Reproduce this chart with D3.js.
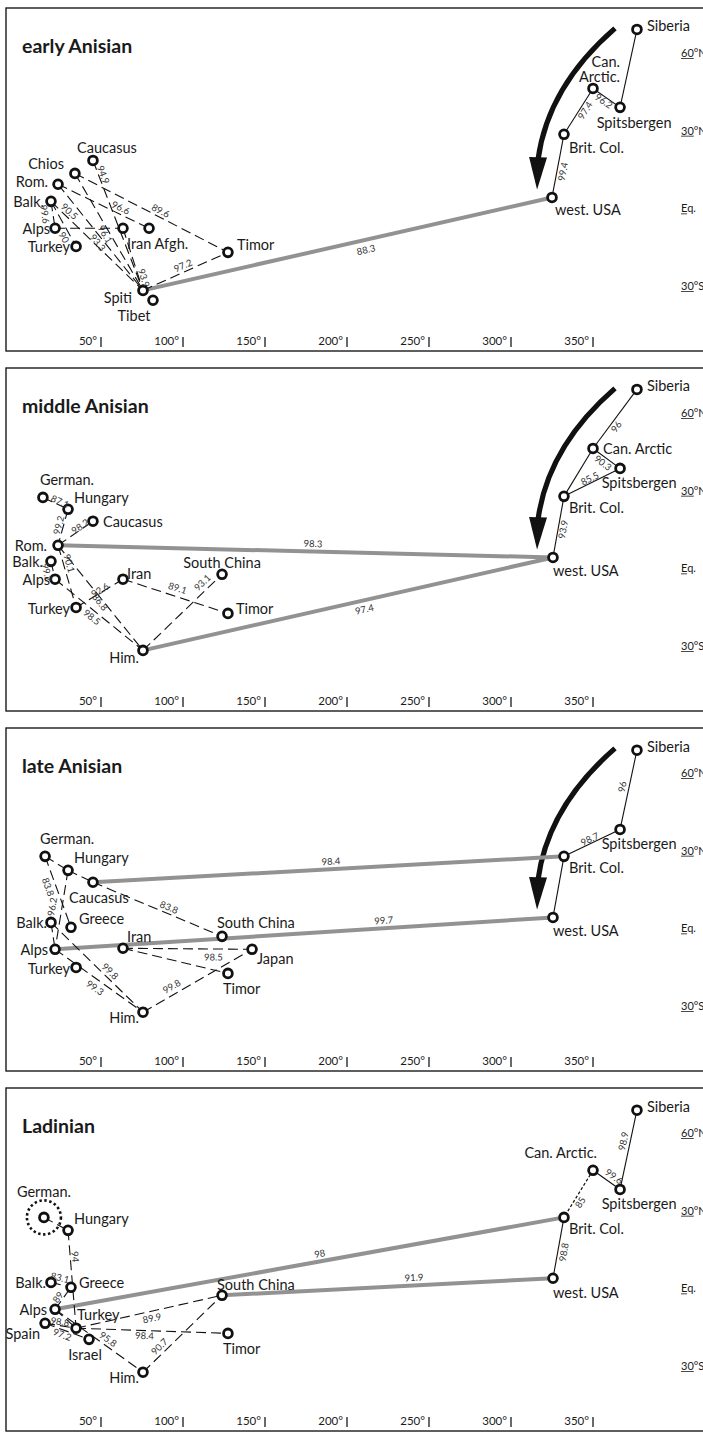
<!DOCTYPE html>
<html>
<head>
<meta charset="utf-8">
<script src="https://cdn.jsdelivr.net/npm/d3@7"></script>
<style>
  body { margin: 0; background: #fff; }
  svg { display: block; }
  text { font-family: Lato, "Noto Sans", "DejaVu Sans", sans-serif; fill: #1a1a1a; }
</style>
</head>
<body>
<svg id="chart" width="703" height="1433"></svg>
<script>
// ---------------- data ----------------
const panelTitles = ["early Anisian", "middle Anisian", "late Anisian", "Ladinian"];
const lonTicks = [50, 100, 150, 200, 250, 300, 350];
const latTicks = [60, 30, 0, -30];
const latTickLabels = [["60", "°N"], ["30", "°N"], ["E", "q."], ["30", "°S"]];

// sites: [id, label, palaeolongitude, palaeolatitude]
const earlyAnisianSites = [
  ["Caucasus", "Caucasus", 45.1, 18.5],
  ["Chios", "Chios", 34.1, 13.5],
  ["Rom", "Rom.", 23.8, 9.3],
  ["Balk", "Balk.", 19.5, 2.7],
  ["Alps", "Alps", 22.0, -7.7],
  ["Turkey", "Turkey", 34.8, -14.7],
  ["Iran", "Iran Afgh.", 63.4, -7.7],
  ["Afgh", "", 79.3, -7.7],
  ["Timor", "Timor", 127.4, -17.0],
  ["Spiti", "Spiti", 75.6, -31.7],
  ["Tibet", "Tibet", 81.7, -35.5],
  ["USA", "west. USA", 325.0, 4.2],
  ["BritCol", "Brit. Col.", 332.3, 28.6],
  ["CanArc", "Can.\nArctic.", 350.0, 46.3],
  ["Spitz", "Spitsbergen", 366.5, 39.0],
  ["Siberia", "Siberia", 376.8, 69.1]
];
// links: [from, to, similarity, kind]
const earlyAnisianLinks = [
  ["Siberia", "Spitz", null, "solid"],
  ["CanArc", "Spitz", "96.2", "solid"],
  ["CanArc", "BritCol", "97.4", "solid"],
  ["BritCol", "USA", "99.4", "solid"],
  ["Spiti", "USA", "88.3", "gray"],
  ["Spiti", "Timor", "97.2", "dashed"],
  ["Chios", "Timor", "89.6", "dashed"],
  ["Caucasus", "Spiti", "94.9", "dashed"],
  ["Rom", "Afgh", "96.6", "dashed"],
  ["Balk", "Spiti", "90.5", "dashed"],
  ["Balk", "Alps", "99.6", "dashed"],
  ["Balk", "Turkey", "90", "dashed"],
  ["Alps", "Iran", null, "dashed"],
  ["Rom", "Spiti", "93.3", "dashed"],
  ["Chios", "Spiti", "96.1", "dashed"],
  ["Iran", "Spiti", "93.9", "dashed"]
];

const middleAnisianSites = [
  ["German", "German.", 14.6, 27.4],
  ["Hungary", "Hungary", 29.9, 22.8],
  ["Caucasus", "Caucasus", 45.1, 18.2],
  ["Rom", "Rom.", 23.8, 8.9],
  ["Balk", "Balk.", 19.5, 2.7],
  ["Alps", "Alps", 22.0, -4.2],
  ["Turkey", "Turkey", 34.8, -15.1],
  ["Iran", "Iran", 63.4, -4.2],
  ["SChina", "South China", 123.8, -2.3],
  ["Timor", "Timor", 127.4, -17.4],
  ["Him", "Him.", 75.6, -31.7],
  ["Siberia", "Siberia", 376.8, 69.1],
  ["CanArc", "Can. Arctic", 350.0, 46.3],
  ["Spitz", "Spitsbergen", 366.5, 38.6],
  ["BritCol", "Brit. Col.", 332.3, 27.8],
  ["USA", "west. USA", 325.6, 4.2]
];
const middleAnisianLinks = [
  ["Siberia", "CanArc", "96", "solid"],
  ["CanArc", "Spitz", "90.3", "solid"],
  ["BritCol", "Spitz", "85.5", "solid"],
  ["CanArc", "BritCol", null, "solid"],
  ["BritCol", "USA", "93.9", "solid"],
  ["Rom", "USA", "98.3", "gray"],
  ["Him", "USA", "97.4", "gray"],
  ["German", "Hungary", "87.1", "dashed"],
  ["Hungary", "Rom", "99.2", "dashed"],
  ["Rom", "Caucasus", "98.2", "dashed"],
  ["Balk", "Alps", "99.2", "dashed"],
  ["Rom", "Turkey", "90.1", "dashed"],
  ["Rom", "Him", "86.8", "dashed"],
  ["Alps", "Him", "98.5", "dashed"],
  ["Turkey", "Iran", "92.6", "dashed"],
  ["Iran", "Timor", "89.1", "dashed"],
  ["Him", "SChina", "93.1", "dashed"]
];

const lateAnisianSites = [
  ["German", "German.", 15.9, 27.8],
  ["Hungary", "Hungary", 29.9, 22.4],
  ["Caucasus", "Caucasus", 45.1, 17.8],
  ["Balk", "Balk.", 19.5, 2.3],
  ["Greece", "Greece", 31.7, 0.4],
  ["Alps", "Alps", 22.0, -8.1],
  ["Turkey", "Turkey", 34.8, -15.1],
  ["Iran", "Iran", 63.4, -7.7],
  ["SChina", "South China", 123.8, -3.1],
  ["Japan", "Japan", 142.1, -8.1],
  ["Timor", "Timor", 127.4, -17.4],
  ["Him", "Him.", 75.6, -32.4],
  ["Siberia", "Siberia", 376.8, 68.8],
  ["Spitz", "Spitsbergen", 366.5, 38.2],
  ["BritCol", "Brit. Col.", 332.3, 27.8],
  ["USA", "west. USA", 325.6, 4.2]
];
const lateAnisianLinks = [
  ["Siberia", "Spitz", "96", "solid"],
  ["Spitz", "BritCol", "98.7", "solid"],
  ["BritCol", "USA", null, "solid"],
  ["Caucasus", "BritCol", "98.4", "gray"],
  ["Alps", "USA", "99.7", "gray"],
  ["German", "Hungary", null, "dashed"],
  ["Hungary", "Caucasus", null, "dashed"],
  ["Caucasus", "SChina", "83.8", "dashed"],
  ["German", "Greece", "83.8", "dashed"],
  ["Hungary", "Alps", "96.2", "dashed"],
  ["Balk", "Alps", null, "dashed"],
  ["Balk", "Him", "99.8", "dashed"],
  ["Alps", "Him", "99.3", "dashed"],
  ["Him", "Japan", "99.8", "dashed"],
  ["Iran", "Japan", "98.5", "dashed"],
  ["Iran", "Timor", null, "dashed"]
];

const ladinianSites = [
  ["German", "German.", 15.2, 27.4],
  ["Hungary", "Hungary", 29.9, 22.4],
  ["Balk", "Balk.", 19.5, 2.3],
  ["Greece", "Greece", 31.7, 0.4],
  ["Alps", "Alps", 22.0, -8.1],
  ["Spain", "Spain", 15.9, -13.5],
  ["Turkey", "Turkey", 34.8, -15.4],
  ["Israel", "Israel", 42.7, -19.7],
  ["SChina", "South China", 123.8, -2.7],
  ["Timor", "Timor", 127.4, -17.4],
  ["Him", "Him.", 75.6, -32.4],
  ["Siberia", "Siberia", 376.8, 68.8],
  ["CanArc", "Can. Arctic.", 350.0, 45.6],
  ["Spitz", "Spitsbergen", 366.5, 38.2],
  ["BritCol", "Brit. Col.", 332.3, 27.4],
  ["USA", "west. USA", 325.6, 3.9]
];
const ladinianLinks = [
  ["Siberia", "Spitz", "98.9", "solid"],
  ["CanArc", "Spitz", "99.6", "solid"],
  ["CanArc", "BritCol", "85", "dotted"],
  ["BritCol", "USA", "98.8", "solid"],
  ["Alps", "BritCol", "98", "gray"],
  ["SChina", "USA", "91.9", "gray"],
  ["German", "Hungary", null, "dashed"],
  ["Hungary", "Turkey", "94", "dashed"],
  ["Balk", "Greece", "83.1", "dashed"],
  ["Alps", "Greece", "89", "dashed"],
  ["Spain", "Turkey", "98.8", "dashed"],
  ["Spain", "Israel", "97.2", "dashed"],
  ["Turkey", "SChina", "89.9", "dashed"],
  ["Turkey", "Timor", "98.4", "dashed"],
  ["Alps", "Him", "95.8", "dashed"],
  ["Him", "SChina", "90.7", "dashed"],
  ["Alps", "Turkey", null, "dashed"]
];
const ladinianRingedSites = ["German"];

// migration arrow (lon/lat): start, bend, head base, tip
const arrowStart = [363.4, 69.5];
const arrowBend = [322.6, 47.1];
const arrowBase = [316.5, 19.7];
const arrowTip = [315.9, 7.3];

// ---------------- layout ----------------
// site label placement: [anchor, dx, dy]
const siteLabelLayout = [
  { Caucasus: ["middle", 14, -13], Chios: ["end", -11, -10], Rom: ["end", -10, -3], Balk: ["end", -7, 0],
    Alps: ["end", -5, 0], Turkey: ["end", -6, 0], Iran: ["start", 4, 15], Afgh: ["start", 0, 0],
    Timor: ["start", 9, -8], Spiti: ["end", -11, 7], Tibet: ["middle", -19, 15], Siberia: ["start", 10, -4],
    CanArc: ["end", 27, -27], Spitz: ["middle", 14, 15], BritCol: ["start", 5, 13], USA: ["start", 3, 12] },
  { German: ["start", -3, -18], Hungary: ["start", 6, -12], Caucasus: ["start", 10, 0], Rom: ["end", -11, 0],
    Balk: ["end", -8, 0], Alps: ["end", -5, 0], Turkey: ["end", -6, 1], Iran: ["start", 4, -6],
    SChina: ["middle", 0, -12], Timor: ["start", 8, -5], Him: ["end", -4, 7], Siberia: ["start", 10, -4],
    CanArc: ["start", 10, 0], Spitz: ["middle", 19, 14], BritCol: ["start", 5, 11], USA: ["start", 0, 13] },
  { German: ["start", -5, -18], Hungary: ["start", 6, -13], Caucasus: ["start", -24, 15], Balk: ["end", -4, 0],
    Greece: ["start", 8, -9], Alps: ["end", -7, 0], Turkey: ["end", -6, 1], Iran: ["start", 4, -12],
    SChina: ["start", -5, -14], Japan: ["start", 5, 9], Timor: ["start", -5, 15], Him: ["end", -4, 5],
    Siberia: ["start", 10, -4], Spitz: ["middle", 19, 14], BritCol: ["start", 5, 11], USA: ["start", 0, 13] },
  { German: ["middle", 0, -26], Hungary: ["start", 6, -12], Balk: ["end", -5, 0], Greece: ["start", 8, -5],
    Alps: ["end", -8, 0], Spain: ["end", -5, 10], Turkey: ["start", 1, -14], Israel: ["middle", -4, 15],
    SChina: ["start", -5, -11], Timor: ["start", -5, 15], Him: ["end", -4, 5], Siberia: ["start", 10, -4],
    CanArc: ["end", 4, -18], Spitz: ["middle", 19, 14], BritCol: ["start", 5, 11], USA: ["start", 0, 14] }
];
// link label placement: [fraction along link, dx, dy]
const linkLabelLayout = [
  { "CanArc|Spitz": [0.4, 0, 5], "CanArc|BritCol": [0.48, 6, 0], "BritCol|USA": [0.59, 6, 0],
    "Spiti|USA": [0.545, 0, 10], "Spiti|Timor": [0.47, 0, -7], "Chios|Timor": [0.56, 0, -7],
    "Caucasus|Spiti": [0.11, 5, 0], "Rom|Afgh": [0.69, 0, -7], "Balk|Spiti": [0.18, 2, -6],
    "Balk|Alps": [0.48, -8, 0], "Balk|Turkey": [0.8, -7, 0], "Rom|Spiti": [0.55, -7, 0],
    "Chios|Spiti": [0.52, -5, 0], "Iran|Spiti": [0.8, 5, 0] },
  { "Siberia|CanArc": [0.63, 7, 0], "CanArc|Spitz": [0.37, 0, 7], "BritCol|Spitz": [0.46, 0, -5],
    "BritCol|USA": [0.54, 5, 0], "Rom|USA": [0.515, 0, -8], "Him|USA": [0.54, 0, 9],
    "German|Hungary": [0.68, 0, -4], "Hungary|Rom": [0.44, -5, 0], "Rom|Caucasus": [0.66, -1, -3],
    "Balk|Alps": [0.5, -6, 2], "Rom|Turkey": [0.29, 6, 0], "Rom|Him": [0.53, -3, 1],
    "Alps|Him": [0.42, 0, 8], "Turkey|Iran": [0.51, 0, -3], "Iran|Timor": [0.52, 0, -9],
    "Him|SChina": [0.8, -4, -7] },
  { "Siberia|Spitz": [0.46, -7, 0], "Spitz|BritCol": [0.54, 0, -5], "Caucasus|BritCol": [0.505, 0, -8],
    "Alps|USA": [0.66, 0, -8], "Caucasus|SChina": [0.59, 0, -7], "German|Greece": [0.43, -8, 0],
    "Hungary|Alps": [0.46, -10, 0], "Balk|Him": [0.6, 4, -5], "Alps|Him": [0.5, -4, 7],
    "Him|Japan": [0.3, -4, -7], "Iran|Japan": [0.7, 0, 8] },
  { "Siberia|Spitz": [0.39, -7, 0], "CanArc|Spitz": [0.63, 4, -6], "CanArc|BritCol": [0.68, 7, 0],
    "BritCol|USA": [0.57, 6, 0], "Alps|BritCol": [0.52, 0, -8], "SChina|USA": [0.58, 0, -8],
    "Hungary|Turkey": [0.27, 5, 0], "Balk|Greece": [0.45, 0, -7], "Alps|Greece": [0.55, -6, 0],
    "Spain|Turkey": [0.48, 0, -4], "Spain|Israel": [0.39, 0, 5], "Turkey|SChina": [0.52, 0, 7],
    "Turkey|Timor": [0.45, 0, 5], "Alps|Him": [0.57, 3, -6], "Him|SChina": [0.27, -5, -5] }
];

const panels = [
  { sites: earlyAnisianSites, links: earlyAnisianLinks, arrow: true, ringed: [] },
  { sites: middleAnisianSites, links: middleAnisianLinks, arrow: true, ringed: [] },
  { sites: lateAnisianSites, links: lateAnisianLinks, arrow: true, ringed: [] },
  { sites: ladinianSites, links: ladinianLinks, arrow: false, ringed: ladinianRingedSites }
];

const panelTop = [8, 368, 728, 1088];
const panelHeight = 343;

const x = d3.scaleLinear().domain([0, 350]).range([19, 593]);
const y = d3.scaleLinear().domain([-30, 60]).range([278, 45]);

const linkStyle = {
  solid: { stroke: "#111", width: 1.1, dash: null },
  dashed: { stroke: "#111", width: 1.1, dash: "10,5" },
  dotted: { stroke: "#111", width: 1.2, dash: "3,2" },
  gray: { stroke: "#929292", width: 4, dash: null }
};

const svg = d3.select("#chart");

panels.forEach((p, i) => {
  const g = svg.append("g").attr("transform", `translate(0,${panelTop[i]})`);
  const pos = new Map(p.sites.map(s => [s[0], [x(s[2]), y(s[3])]]));

  // frame
  g.append("rect")
    .attr("x", 6).attr("y", 0)
    .attr("width", 720).attr("height", panelHeight)
    .attr("fill", "none").attr("stroke", "#1a1a1a").attr("stroke-width", 1.4);

  // title
  g.append("text")
    .attr("x", 22).attr("y", 37)
    .attr("dominant-baseline", "central")
    .attr("font-size", 19.5).attr("font-weight", 700)
    .text(panelTitles[i]);

  // longitude ticks
  const tk = g.append("g").attr("class", "lon-ticks");
  lonTicks.forEach(v => {
    tk.append("text")
      .attr("x", x(v) - 4).attr("y", 332)
      .attr("text-anchor", "end").attr("dominant-baseline", "central")
      .attr("font-size", 11.5)
      .text(v + "°");
    tk.append("line")
      .attr("x1", x(v)).attr("x2", x(v))
      .attr("y1", 329).attr("y2", 339)
      .attr("stroke", "#1a1a1a").attr("stroke-width", 1.3);
  });

  // latitude labels
  latTicks.forEach((v, k) => {
    const t = g.append("text")
      .attr("x", 681).attr("y", y(v) + 4)
      .attr("font-size", 11);
    t.append("tspan").text(latTickLabels[k][0]);
    t.append("tspan").text(latTickLabels[k][1]);
    const len = t.node().getSubStringLength(0, latTickLabels[k][0].length);
    g.append("line")
      .attr("x1", 681).attr("x2", 681 + len)
      .attr("y1", y(v) + 5.5).attr("y2", y(v) + 5.5)
      .attr("stroke", "#1a1a1a").attr("stroke-width", 0.8);
  });

  // migration arrow
  if (p.arrow) {
    const s = [x(arrowStart[0]), y(arrowStart[1])];
    const c = [x(arrowBend[0]), y(arrowBend[1])];
    const b = [x(arrowBase[0]), y(arrowBase[1])];
    const tip = [x(arrowTip[0]), y(arrowTip[1])];
    g.append("path")
      .attr("d", `M${s[0]},${s[1]} Q${c[0]},${c[1]} ${b[0]},${b[1] + 2}`)
      .attr("fill", "none").attr("stroke", "#111").attr("stroke-width", 5.2);
    const dx = tip[0] - b[0], dy = tip[1] - b[1];
    const L = Math.hypot(dx, dy), nx = -dy / L, ny = dx / L, hw = 9;
    g.append("path")
      .attr("d", `M${b[0] + nx * hw},${b[1] + ny * hw} L${tip[0]},${tip[1]} L${b[0] - nx * hw},${b[1] - ny * hw} Z`)
      .attr("fill", "#111");
  }

  // links: gray first, black on top
  const ordered = p.links.filter(l => l[3] === "gray").concat(p.links.filter(l => l[3] !== "gray"));
  g.append("g").selectAll("line").data(ordered).join("line")
    .attr("x1", d => pos.get(d[0])[0]).attr("y1", d => pos.get(d[0])[1])
    .attr("x2", d => pos.get(d[1])[0]).attr("y2", d => pos.get(d[1])[1])
    .attr("stroke", d => linkStyle[d[3]].stroke)
    .attr("stroke-width", d => linkStyle[d[3]].width)
    .attr("stroke-dasharray", d => linkStyle[d[3]].dash);

  // dotted rings
  p.ringed.forEach(id => {
    const q = pos.get(id);
    g.append("circle")
      .attr("cx", q[0]).attr("cy", q[1]).attr("r", 17)
      .attr("fill", "none").attr("stroke", "#111")
      .attr("stroke-width", 2.6).attr("stroke-dasharray", "2.4,2.6");
  });

  // sites
  g.append("g").selectAll("circle").data(p.sites).join("circle")
    .attr("cx", d => x(d[2])).attr("cy", d => y(d[3]))
    .attr("r", 4.4)
    .attr("fill", "#fff").attr("stroke", "#111").attr("stroke-width", 2.8);

  // site labels
  const lay = siteLabelLayout[i];
  p.sites.forEach(s => {
    if (!s[1]) return;
    const [anchor, dx, dy] = lay[s[0]];
    const lines = s[1].split("\n");
    lines.forEach((ln, k) => {
      g.append("text")
        .attr("x", x(s[2]) + dx)
        .attr("y", y(s[3]) + dy + k * 15)
        .attr("text-anchor", anchor)
        .attr("dominant-baseline", "central")
        .attr("font-size", 14.5)
        .text(ln);
    });
  });

  // link labels
  const ll = linkLabelLayout[i];
  p.links.forEach(l => {
    if (!l[2]) return;
    const spot = ll[l[0] + "|" + l[1]] || [0.5, 0, -5];
    const a = pos.get(l[0]), b = pos.get(l[1]);
    const px = a[0] + (b[0] - a[0]) * spot[0] + spot[1];
    const py = a[1] + (b[1] - a[1]) * spot[0] + spot[2];
    let ang = Math.atan2(b[1] - a[1], b[0] - a[0]) * 180 / Math.PI;
    if (ang > 90) ang -= 180;
    if (ang <= -90) ang += 180;
    g.append("text")
      .attr("transform", `translate(${px},${py}) rotate(${ang})`)
      .attr("text-anchor", "middle").attr("dominant-baseline", "central")
      .attr("font-size", 9.5)
      .style("fill", "#333")
      .text(l[2]);
  });
});
</script>
</body>
</html>
